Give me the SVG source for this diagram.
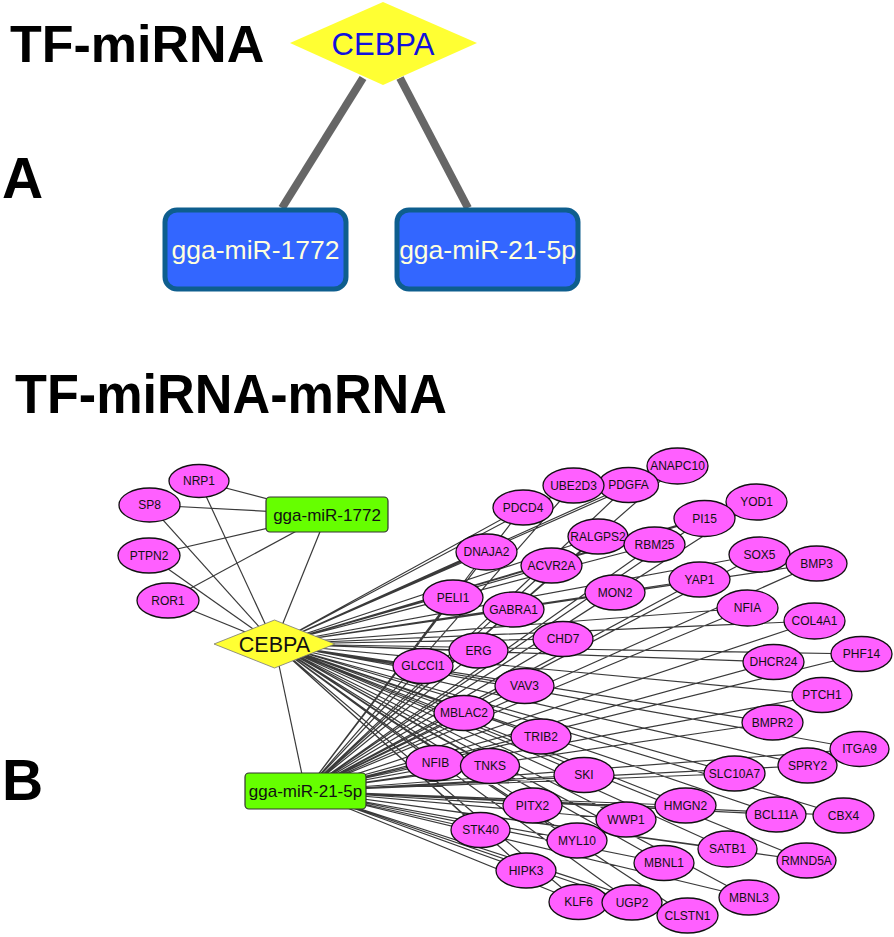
<svg xmlns="http://www.w3.org/2000/svg" width="894" height="937" viewBox="0 0 894 937">
<style>
.title{font-family:"Liberation Sans",Arial,sans-serif;font-weight:bold;fill:#000}
.ea{stroke:#666;stroke-width:8;fill:none}
.e{stroke:#3a3a3a;stroke-width:1.2;fill:none}
.mr ellipse{fill:#FF5FFF;stroke:#111;stroke-width:1.3}
.mr text,.lbl{font-family:"Liberation Sans",Arial,sans-serif;font-size:12px;fill:#111;text-anchor:middle;dominant-baseline:central}
.boxA rect{fill:#3366FF;stroke:#0E5E8E;stroke-width:5}
.boxA text{font-family:"Liberation Sans",Arial,sans-serif;font-size:26.5px;fill:#FFFFDD;text-anchor:middle;dominant-baseline:central}
.boxB rect{fill:#66FF00;stroke:#333;stroke-width:1.2}
.boxB text{font-family:"Liberation Sans",Arial,sans-serif;font-size:17px;fill:#111;text-anchor:middle;dominant-baseline:central}
</style>
<rect width="894" height="937" fill="#fff"/>
<text class="title" x="10" y="62" font-size="52">TF-miRNA</text>
<text class="title" x="2" y="198" font-size="57">A</text>
<text class="title" x="15" y="413" font-size="56" textLength="432" lengthAdjust="spacingAndGlyphs">TF-miRNA-mRNA</text>
<text class="title" x="2" y="800" font-size="57">B</text>

<g id="edgesA">
<line class="ea" x1="363" y1="78" x2="282" y2="208"/>
<line class="ea" x1="400" y1="78" x2="468" y2="208"/>
</g>
<g id="A-CEBPA">
<polygon points="383,2 477,43 383,85 290,43" fill="#FFFF33"/>
<text x="383" y="44" font-family="Liberation Sans,Arial,sans-serif" font-size="31" fill="#1111DD" text-anchor="middle" dominant-baseline="central">CEBPA</text>
</g>
<g id="A-miR1772" class="boxA"><rect x="165" y="210" width="181" height="79" rx="12"/><text x="255.5" y="250">gga-miR-1772</text></g>
<g id="A-miR21" class="boxA"><rect x="397" y="210" width="181" height="79" rx="12"/><text x="487.5" y="250">gga-miR-21-5p</text></g>

<g id="edgesB" class="e">
<line x1="199" y1="481" x2="327" y2="514.5"/>
<line x1="199" y1="481" x2="274.5" y2="644"/>
<line x1="149.5" y1="505" x2="327" y2="514.5"/>
<line x1="149.5" y1="505" x2="274.5" y2="644"/>
<line x1="149" y1="555.5" x2="327" y2="514.5"/>
<line x1="149" y1="555.5" x2="274.5" y2="644"/>
<line x1="168" y1="600.5" x2="327" y2="514.5"/>
<line x1="168" y1="600.5" x2="274.5" y2="644"/>
<line x1="327" y1="514.5" x2="274.5" y2="644"/>
<line x1="274.5" y1="644" x2="305.5" y2="791"/>
<path d="M274.5 644L677.5 466M305.5 791L677.5 466
M274.5 644L628.5 485M305.5 791L628.5 485
M274.5 644L573.5 485.5M305.5 791L573.5 485.5
M274.5 644L523 507.5M305.5 791L523 507.5
M274.5 644L598 536.5M305.5 791L598 536.5
M274.5 644L654.5 544.5M305.5 791L654.5 544.5
M274.5 644L704.5 518.5M305.5 791L704.5 518.5
M274.5 644L756.5 502M305.5 791L756.5 502
M274.5 644L486.5 552M305.5 791L486.5 552
M274.5 644L551.5 565.5M305.5 791L551.5 565.5
M274.5 644L759.5 554.5M305.5 791L759.5 554.5
M274.5 644L816.5 563.5M305.5 791L816.5 563.5
M274.5 644L615 592.5M305.5 791L615 592.5
M274.5 644L453 597.5M305.5 791L453 597.5
M274.5 644L513.5 609.5M305.5 791L513.5 609.5
M274.5 644L699.5 579.5M305.5 791L699.5 579.5
M274.5 644L747.5 608M305.5 791L747.5 608
M274.5 644L814.5 621M305.5 791L814.5 621
M274.5 644L563 639M305.5 791L563 639
M274.5 644L478.5 650.5M305.5 791L478.5 650.5
M274.5 644L423 666M305.5 791L423 666
M274.5 644L773.5 662M305.5 791L773.5 662
M274.5 644L861.5 654M305.5 791L861.5 654
M274.5 644L524.5 686M305.5 791L524.5 686
M274.5 644L822 695M305.5 791L822 695
M274.5 644L464 713M305.5 791L464 713
M274.5 644L772.5 722.5M305.5 791L772.5 722.5
M274.5 644L541 736.5M305.5 791L541 736.5
M274.5 644L859.5 749M305.5 791L859.5 749
M274.5 644L807.5 765.5M305.5 791L807.5 765.5
M274.5 644L435.5 763M305.5 791L435.5 763
M274.5 644L490 766M305.5 791L490 766
M274.5 644L584 775M305.5 791L584 775
M274.5 644L734.5 773.5M305.5 791L734.5 773.5
M274.5 644L532.5 805.5M305.5 791L532.5 805.5
M274.5 644L685.5 805.5M305.5 791L685.5 805.5
M274.5 644L776 814.5M305.5 791L776 814.5
M274.5 644L843.5 815.5M305.5 791L843.5 815.5
M274.5 644L626 819.5M305.5 791L626 819.5
M274.5 644L480.5 830M305.5 791L480.5 830
M274.5 644L577 840.5M305.5 791L577 840.5
M274.5 644L727.5 849M305.5 791L727.5 849
M274.5 644L806.5 860.5M305.5 791L806.5 860.5
M274.5 644L664 863M305.5 791L664 863
M274.5 644L526 870.5M305.5 791L526 870.5
M274.5 644L578.5 902M305.5 791L578.5 902
M274.5 644L632 902.5M305.5 791L632 902.5
M274.5 644L687.5 915.5M305.5 791L687.5 915.5
M274.5 644L749 897.5M305.5 791L749 897.5"/>
</g>

<g id="B-miR1772" class="boxB"><rect x="266" y="497" width="122" height="35" rx="4"/><text x="327" y="515">gga-miR-1772</text></g>
<g id="B-miR21" class="boxB"><rect x="245" y="773" width="121" height="36" rx="4"/><text x="305.5" y="791">gga-miR-21-5p</text></g>
<g id="B-CEBPA">
<polygon points="274.5,620 335,644 274.5,668 214,644" fill="#FFFF33" stroke="#777" stroke-width="0.8"/>
<text x="274.5" y="645" font-family="Liberation Sans,Arial,sans-serif" font-size="21.5" fill="#111" text-anchor="middle" dominant-baseline="central">CEBPA</text>
</g>

<g class="mr">
<g id="NRP1"><ellipse cx="199" cy="481" rx="30" ry="16.5"/><text x="199" y="481">NRP1</text></g>
<g id="SP8"><ellipse cx="149.5" cy="505" rx="30.5" ry="17"/><text x="149.5" y="505">SP8</text></g>
<g id="PTPN2"><ellipse cx="149" cy="555.5" rx="31" ry="17.5"/><text x="149" y="555.5">PTPN2</text></g>
<g id="ROR1"><ellipse cx="168" cy="600.5" rx="31" ry="17.5"/><text x="168" y="600.5">ROR1</text></g>
<g id="ANAPC10"><ellipse cx="677.5" cy="466" rx="30.5" ry="18"/><text x="677.5" y="466">ANAPC10</text></g>
<g id="PDGFA"><ellipse cx="628.5" cy="485" rx="30" ry="17.5"/><text x="628.5" y="485">PDGFA</text></g>
<g id="UBE2D3"><ellipse cx="573.5" cy="485.5" rx="30.5" ry="17.5"/><text x="573.5" y="485.5">UBE2D3</text></g>
<g id="PDCD4"><ellipse cx="523" cy="507.5" rx="30" ry="17.5"/><text x="523" y="507.5">PDCD4</text></g>
<g id="YOD1"><ellipse cx="756.5" cy="502" rx="30.5" ry="18"/><text x="756.5" y="502">YOD1</text></g>
<g id="PI15"><ellipse cx="704.5" cy="518.5" rx="30.5" ry="18"/><text x="704.5" y="518.5">PI15</text></g>
<g id="RALGPS2"><ellipse cx="598" cy="536.5" rx="30" ry="17.5"/><text x="598" y="536.5">RALGPS2</text></g>
<g id="RBM25"><ellipse cx="654.5" cy="544.5" rx="30.5" ry="17.5"/><text x="654.5" y="544.5">RBM25</text></g>
<g id="DNAJA2"><ellipse cx="486.5" cy="552" rx="30.5" ry="18"/><text x="486.5" y="552">DNAJA2</text></g>
<g id="ACVR2A"><ellipse cx="551.5" cy="565.5" rx="30.5" ry="17.5"/><text x="551.5" y="565.5">ACVR2A</text></g>
<g id="SOX5"><ellipse cx="759.5" cy="554.5" rx="30.5" ry="17.5"/><text x="759.5" y="554.5">SOX5</text></g>
<g id="BMP3"><ellipse cx="816.5" cy="563.5" rx="30.5" ry="17.5"/><text x="816.5" y="563.5">BMP3</text></g>
<g id="YAP1"><ellipse cx="699.5" cy="579.5" rx="30.5" ry="17.5"/><text x="699.5" y="579.5">YAP1</text></g>
<g id="MON2"><ellipse cx="615" cy="592.5" rx="30" ry="17.5"/><text x="615" y="592.5">MON2</text></g>
<g id="PELI1"><ellipse cx="453" cy="597.5" rx="30" ry="17.5"/><text x="453" y="597.5">PELI1</text></g>
<g id="GABRA1"><ellipse cx="513.5" cy="609.5" rx="30.5" ry="17.5"/><text x="513.5" y="609.5">GABRA1</text></g>
<g id="NFIA"><ellipse cx="747.5" cy="608" rx="30.5" ry="18"/><text x="747.5" y="608">NFIA</text></g>
<g id="COL4A1"><ellipse cx="814.5" cy="621" rx="30.5" ry="18"/><text x="814.5" y="621">COL4A1</text></g>
<g id="CHD7"><ellipse cx="563" cy="639" rx="30" ry="17.5"/><text x="563" y="639">CHD7</text></g>
<g id="ERG"><ellipse cx="478.5" cy="650.5" rx="29.5" ry="17.5"/><text x="478.5" y="650.5">ERG</text></g>
<g id="PHF14"><ellipse cx="861.5" cy="654" rx="30.5" ry="17.5"/><text x="861.5" y="654">PHF14</text></g>
<g id="DHCR24"><ellipse cx="773.5" cy="662" rx="30.5" ry="17.5"/><text x="773.5" y="662">DHCR24</text></g>
<g id="GLCCI1"><ellipse cx="423" cy="666" rx="30" ry="17.5"/><text x="423" y="666">GLCCI1</text></g>
<g id="VAV3"><ellipse cx="524.5" cy="686" rx="29.5" ry="17.5"/><text x="524.5" y="686">VAV3</text></g>
<g id="PTCH1"><ellipse cx="822" cy="695" rx="30" ry="17.5"/><text x="822" y="695">PTCH1</text></g>
<g id="MBLAC2"><ellipse cx="464" cy="713" rx="30" ry="17.5"/><text x="464" y="713">MBLAC2</text></g>
<g id="BMPR2"><ellipse cx="772.5" cy="722.5" rx="30.5" ry="17.5"/><text x="772.5" y="722.5">BMPR2</text></g>
<g id="TRIB2"><ellipse cx="541" cy="736.5" rx="30" ry="17.5"/><text x="541" y="736.5">TRIB2</text></g>
<g id="ITGA9"><ellipse cx="859.5" cy="749" rx="29.5" ry="17.5"/><text x="859.5" y="749">ITGA9</text></g>
<g id="NFIB"><ellipse cx="435.5" cy="763" rx="29.5" ry="17.5"/><text x="435.5" y="763">NFIB</text></g>
<g id="TNKS"><ellipse cx="490" cy="766" rx="29.5" ry="17.5"/><text x="490" y="766">TNKS</text></g>
<g id="SPRY2"><ellipse cx="807.5" cy="765.5" rx="29.5" ry="17.5"/><text x="807.5" y="765.5">SPRY2</text></g>
<g id="SLC10A7"><ellipse cx="734.5" cy="773.5" rx="30.5" ry="17.5"/><text x="734.5" y="773.5">SLC10A7</text></g>
<g id="SKI"><ellipse cx="584" cy="775" rx="30" ry="17.5"/><text x="584" y="775">SKI</text></g>
<g id="PITX2"><ellipse cx="532.5" cy="805.5" rx="29.5" ry="17.5"/><text x="532.5" y="805.5">PITX2</text></g>
<g id="HMGN2"><ellipse cx="685.5" cy="805.5" rx="30.5" ry="17.5"/><text x="685.5" y="805.5">HMGN2</text></g>
<g id="BCL11A"><ellipse cx="776" cy="814.5" rx="30" ry="17.5"/><text x="776" y="814.5">BCL11A</text></g>
<g id="CBX4"><ellipse cx="843.5" cy="815.5" rx="30.5" ry="17.5"/><text x="843.5" y="815.5">CBX4</text></g>
<g id="WWP1"><ellipse cx="626" cy="819.5" rx="30" ry="17.5"/><text x="626" y="819.5">WWP1</text></g>
<g id="STK40"><ellipse cx="480.5" cy="830" rx="29.5" ry="17.5"/><text x="480.5" y="830">STK40</text></g>
<g id="MYL10"><ellipse cx="577" cy="840.5" rx="30" ry="17.5"/><text x="577" y="840.5">MYL10</text></g>
<g id="SATB1"><ellipse cx="727.5" cy="849" rx="29.5" ry="18"/><text x="727.5" y="849">SATB1</text></g>
<g id="RMND5A"><ellipse cx="806.5" cy="860.5" rx="29.5" ry="17.5"/><text x="806.5" y="860.5">RMND5A</text></g>
<g id="MBNL1"><ellipse cx="664" cy="863" rx="30" ry="17.5"/><text x="664" y="863">MBNL1</text></g>
<g id="HIPK3"><ellipse cx="526" cy="870.5" rx="30" ry="17.5"/><text x="526" y="870.5">HIPK3</text></g>
<g id="MBNL3"><ellipse cx="749" cy="897.5" rx="30" ry="17.5"/><text x="749" y="897.5">MBNL3</text></g>
<g id="KLF6"><ellipse cx="578.5" cy="902" rx="29.5" ry="17.5"/><text x="578.5" y="902">KLF6</text></g>
<g id="UGP2"><ellipse cx="632" cy="902.5" rx="30" ry="17.5"/><text x="632" y="902.5">UGP2</text></g>
<g id="CLSTN1"><ellipse cx="687.5" cy="915.5" rx="30.5" ry="17.5"/><text x="687.5" y="915.5">CLSTN1</text></g>
</g>
</svg>
